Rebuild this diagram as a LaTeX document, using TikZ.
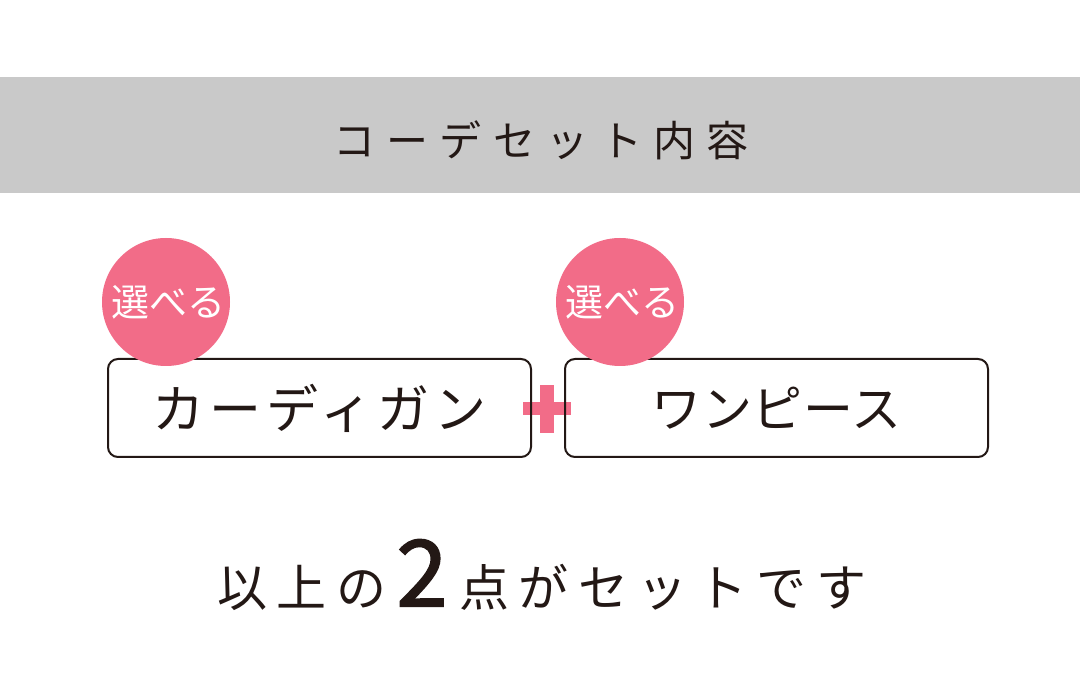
\documentclass[tikz,border=0pt]{standalone}
\usepackage{fontspec}
\setmainfont{Noto Sans CJK JP}
\newfontfamily\jpwide[LetterSpace=27]{Noto Sans CJK JP}
\newfontfamily\jpmid[LetterSpace=19]{Noto Sans CJK JP}
\newfontfamily\jpboxa[LetterSpace=10]{Noto Sans CJK JP}
\newfontfamily\jpboxb[LetterSpace=1]{Noto Sans CJK JP}
\newfontfamily\jpdigit[FakeBold=2]{Noto Sans CJK JP}
\usetikzlibrary{positioning,calc}
\definecolor{inkbrown}{HTML}{231815}
\definecolor{bandgray}{HTML}{C9C9C9}
\definecolor{chippink}{HTML}{F26C88}

\begin{document}
\begin{tikzpicture}[x=1pt,y=-1pt,
      itembox/.style={draw=inkbrown,line width=2pt,rounded corners=10pt,
        minimum width=423pt,minimum height=98pt,inner sep=0pt,text=inkbrown},
      chip/.style={circle,fill=chippink,minimum size=128pt,inner sep=0pt,text=white,
        font=\fontsize{38pt}{38pt}\selectfont}]
    \useasboundingbox (0,0) rectangle (1080,700);
    \fill[white] (0,0) rectangle (1080,700);
    % header band
    \fill[bandgray] (0,77) rectangle (1080,193);
    \node[text=inkbrown,font=\jpwide\fontsize{42pt}{42pt}\selectfont] (title) at (541,140)
      {コーデセット内容};
    % plus sign between the boxes
    \coordinate (plus) at (547,409);
    \fill[chippink] ($(plus)+(-7,-24)$) rectangle ($(plus)+(7,24)$);
    \fill[chippink] ($(plus)+(-24,-6.5)$) rectangle ($(plus)+(24,6.5)$);
    % boxes
    \node[itembox,font=\jpboxa\fontsize{52pt}{52pt}\selectfont] (cardi) at (319.5,408)
      {カーディガン};
    \node[itembox,font=\jpboxb\fontsize{50pt}{50pt}\selectfont,right=32pt of cardi] (onep)
      {ワンピース};
    % badges
    \node[chip] (chipa) at ($(cardi.north west)+(59,-56)$) {\hspace{4pt}選べる};
    \node[chip] (chipb) at ($(onep.north west)+(56,-56)$) {\hspace{4pt}選べる};
    % summary line
    \node[text=inkbrown,font=\jpmid\fontsize{50pt}{50pt}\selectfont] (total) at (542,575)
      {以上の\hspace{10pt}{\jpdigit\fontsize{92pt}{92pt}\selectfont 2}\hspace{12pt}点がセットです};
  \end{tikzpicture}
\end{document}
